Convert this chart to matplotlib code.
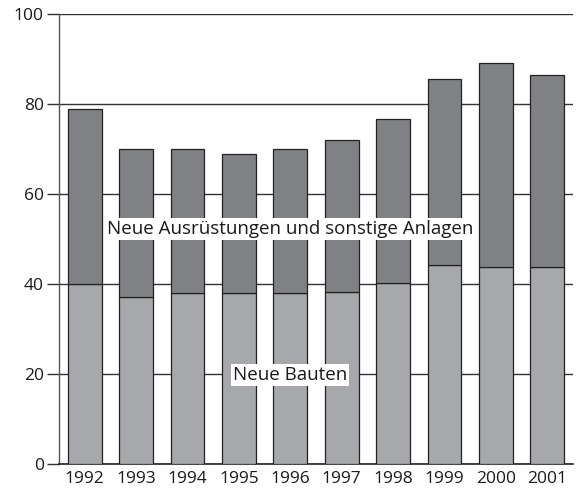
import matplotlib
matplotlib.use("Agg")
import matplotlib.pyplot as plt
import numpy as np

years = ["1992", "1993", "1994", "1995", "1996", "1997", "1998", "1999", "2000", "2001"]
bauten = [40.1, 37.2, 38.0, 38.0, 38.0, 38.3, 40.2, 44.2, 43.9, 43.8]
total = [78.8, 70.0, 70.1, 68.9, 70.0, 72.0, 76.7, 85.5, 89.2, 86.4]
ausruestungen = [t - b for t, b in zip(total, bauten)]
yticks = [0, 20, 40, 60, 80, 100]

plt.rcParams['font.family'] = ['Open Sans', 'DejaVu Sans']

fig = plt.figure(figsize=(5.77, 4.96), dpi=100)
ax = fig.add_axes([0.1023, 0.064, 0.8907, 0.908])

x = np.arange(len(years))
ax.bar(x, bauten, width=0.66, color="#a7a8ab", edgecolor="#222222", linewidth=0.9, zorder=3)
ax.bar(x, ausruestungen, bottom=bauten, width=0.66, color="#808184", edgecolor="#222222", linewidth=0.9, zorder=3)

ax.set_xlim(-0.5, len(years) - 0.5)
ax.set_ylim(0, 100)
ax.set_yticks(yticks)
ax.set_xticks(x)
ax.set_xticklabels(years)
ax.yaxis.grid(True, color="#333333", linewidth=1.0, zorder=0)
ax.set_axisbelow(True)
for s in ["top", "right"]:
    ax.spines[s].set_visible(False)
ax.spines["left"].set_color("#555555")
ax.spines["left"].set_linewidth(1.0)
ax.spines["bottom"].set_color("#222222")
ax.spines["bottom"].set_linewidth(1.2)
ax.tick_params(axis="y", length=9, width=1.0, color="#333333", labelsize=12.5, pad=2, labelcolor="#1a1a1a")
ax.tick_params(axis="x", length=0, labelsize=12.5, pad=5, labelcolor="#1a1a1a")

ax.text(4, 52.3, "Neue Ausrüstungen und sonstige Anlagen", ha="center", va="center", fontsize=13.5,
        color="#1a1a1a", zorder=5, bbox=dict(facecolor="white", edgecolor="none", pad=1.5))
ax.text(4, 19.8, "Neue Bauten", ha="center", va="center", fontsize=13.5,
        color="#1a1a1a", zorder=5, bbox=dict(facecolor="white", edgecolor="none", pad=1.5))

fig.savefig("out.png", dpi=100)
